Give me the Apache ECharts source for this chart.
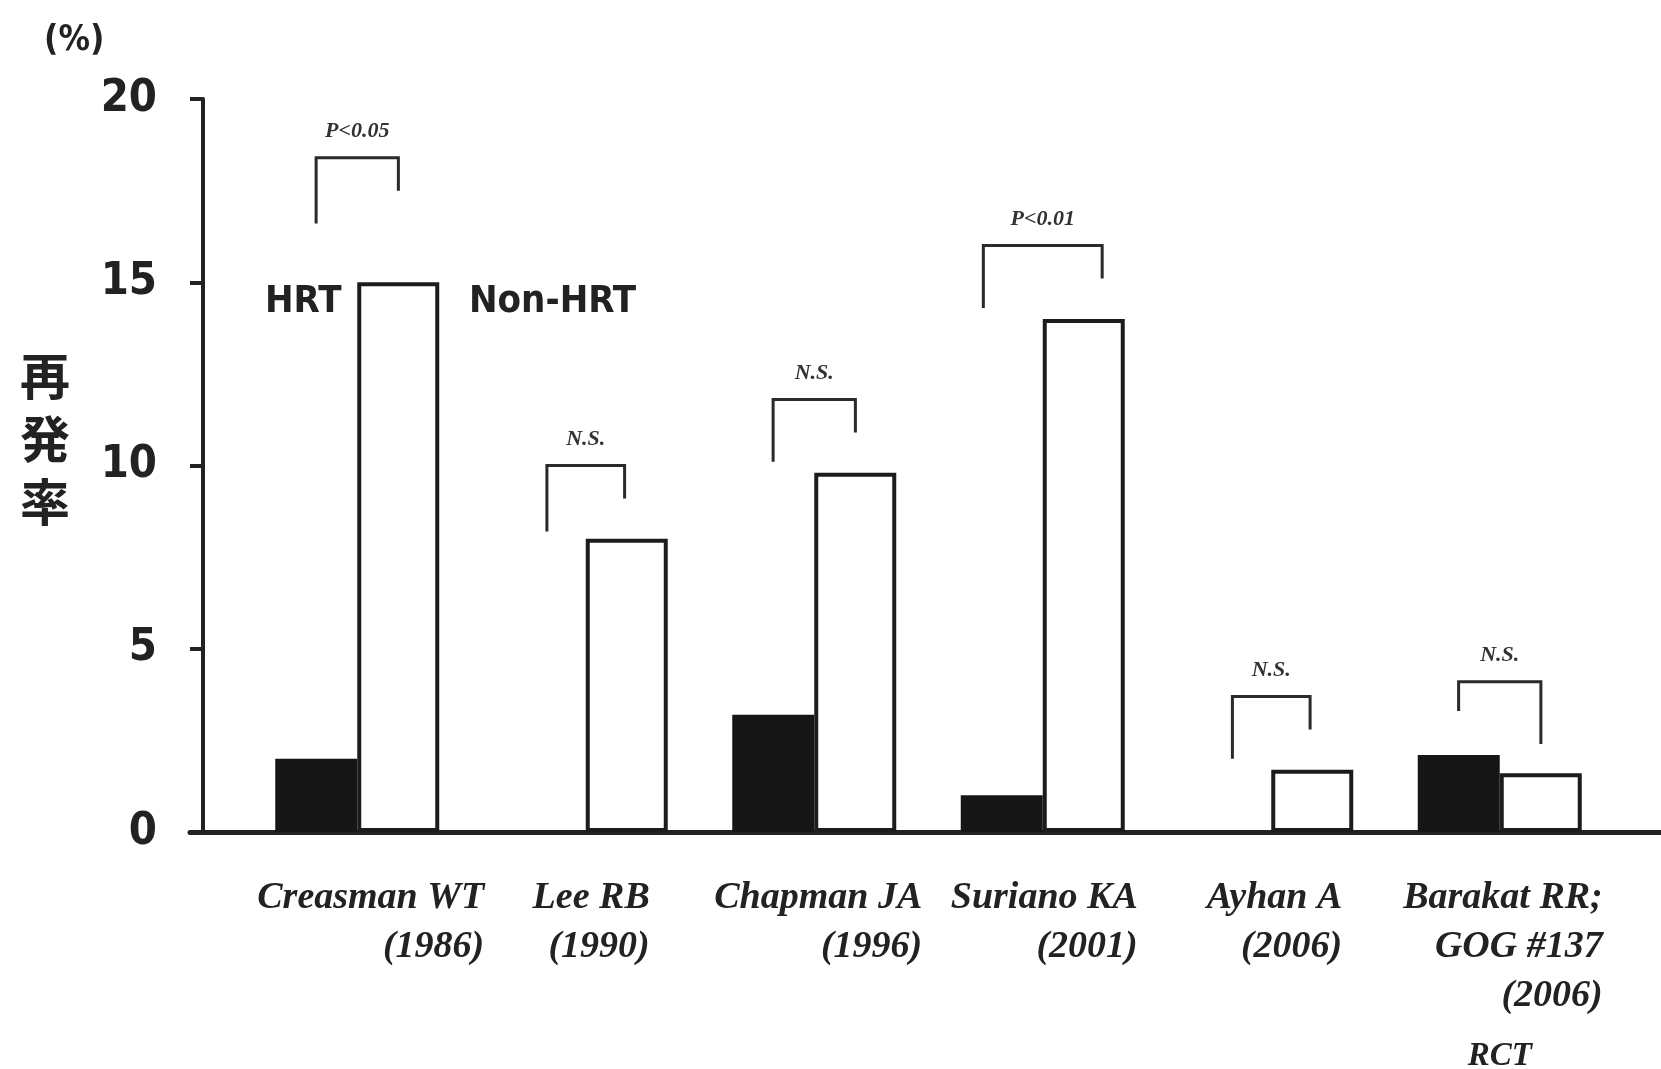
<!DOCTYPE html>
<html><head><meta charset="utf-8">
<script src="https://cdn.jsdelivr.net/npm/echarts@6/dist/echarts.min.js"></script>
<style>html,body{margin:0;padding:0;background:#fff}#c{width:1661px;height:1069px}</style>
</head><body><div id="c"></div>
<script>
// ---- data ----
const categories = ['Creasman WT\n(1986)', 'Lee RB\n(1990)', 'Chapman JA\n(1996)', 'Suriano KA\n(2001)', 'Ayhan A\n(2006)', 'Barakat RR;\nGOG #137\n(2006)\nRCT'];
const hrt = [2.0, 0, 3.2, 1.0, 0, 2.1];
const nonHrt = [15.0, 8.0, 9.8, 14.0, 1.7, 1.6];
const yTicks = [0, 5, 10, 15, 20];
const sigLabels = ['P<0.05', 'N.S.', 'N.S.', 'P<0.01', 'N.S.', 'N.S.'];
const bracketLeftBottom = [16.6, 8.2, 10.1, 14.3, 2.0, 3.3];
const bracketTop = [18.4, 10.0, 11.8, 16.0, 3.7, 4.1];
const bracketRightBottom = [17.5, 9.1, 10.9, 15.1, 2.8, 2.4];

// ---- style ----
const BAR_W = 82;
const BRACKET_SPREAD = [0.18, 0.17, 0.18, 0.26, 0.17, 0.18]; // half-span of each bracket, in category widths
const LABEL_BOX = [254, 128, 216, 190, 142, 206];
const NARROW = '"Liberation Sans Narrow", "DejaVu Sans Condensed", "Liberation Sans", sans-serif';
const SERIF = '"Liberation Serif", "DejaVu Serif", serif';

const rich = {};
LABEL_BOX.forEach((w, i) => {
  rich['w' + i] = {width: w, align: 'right', fontFamily: SERIF, fontStyle: 'italic', fontWeight: 'bold', fontSize: 38, lineHeight: 49, color: '#222'};
});
rich.rct = {width: LABEL_BOX[5], align: 'center', fontFamily: SERIF, fontStyle: 'italic', fontWeight: 'bold', fontSize: 33, lineHeight: 70, color: '#222'};

const chart = echarts.init(document.getElementById('c'), null, {renderer: 'canvas'});
chart.setOption({
  backgroundColor: '#fff',
  animation: false,
  title: [
    {text: '(%)', left: 44, top: 23, padding: 0, textStyle: {fontFamily: NARROW, fontWeight: 'bold', fontSize: 35, color: '#222'}},
    {text: '再\n発\n率', left: 20, top: 344, padding: 0, textStyle: {fontFamily: '"Noto Sans CJK JP", sans-serif', fontWeight: 'bold', fontSize: 50, lineHeight: 63, color: '#222'}},
    {text: 'HRT', left: 265, top: 283, padding: 0, textStyle: {fontFamily: NARROW, fontWeight: 'bold', fontSize: 38, color: '#222'}},
    {text: 'Non-HRT', left: 469, top: 283, padding: 0, textStyle: {fontFamily: NARROW, fontWeight: 'bold', fontSize: 38, color: '#222'}}
  ],
  grid: [
    {left: 243, width: 1371, top: 99, height: 733, containLabel: false, outerBoundsMode: 'none'},
    {left: 190, right: 0, top: 99, height: 733, containLabel: false, outerBoundsMode: 'none'}
  ],
  xAxis: [
    {
      type: 'category', gridIndex: 0, data: categories,
      axisLine: {show: false}, axisTick: {show: false}, splitLine: {show: false},
      axisLabel: {
        interval: 0, margin: 42,
        formatter: function (value, index) {
          return value.split('\n').map(function (line) {
            return line === 'RCT' ? '{rct|' + line + '}' : '{w' + index + '|' + line + '}';
          }).join('\n');
        },
        rich: rich
      }
    },
    {
      type: 'value', gridIndex: 1, min: 0, max: 1,
      axisLine: {show: true, lineStyle: {color: '#222', width: 5}},
      axisTick: {show: false}, axisLabel: {show: false}, splitLine: {show: false}
    }
  ],
  yAxis: [
    {
      type: 'value', gridIndex: 0, offset: 40,
      min: yTicks[0], max: yTicks[yTicks.length - 1], interval: yTicks[1] - yTicks[0],
      axisLine: {show: true, lineStyle: {color: '#222', width: 4}},
      axisTick: {show: true, inside: false, length: 13, lineStyle: {color: '#222', width: 4}},
      splitLine: {show: false},
      axisLabel: {margin: 46, fontFamily: NARROW, fontWeight: 'bold', fontSize: 45, color: '#222'}
    },
    {type: 'value', gridIndex: 1, min: 0, max: 1, show: false}
  ],
  series: [
    {
      name: 'HRT', type: 'bar', xAxisIndex: 0, yAxisIndex: 0, data: hrt,
      barWidth: BAR_W, barGap: '0%',
      itemStyle: {color: '#161616', borderWidth: 0}
    },
    {
      name: 'Non-HRT', type: 'bar', xAxisIndex: 0, yAxisIndex: 0, data: nonHrt,
      barWidth: BAR_W, barGap: '0%',
      itemStyle: {color: '#ffffff', borderColor: '#1c1c1c', borderWidth: 4}
    },
    {
      type: 'custom', xAxisIndex: 0, yAxisIndex: 0, z: 5,
      data: categories.map(function (c, i) { return [i, bracketLeftBottom[i], bracketTop[i], bracketRightBottom[i]]; }),
      encode: {x: 0, y: [1, 2, 3]},
      renderItem: function (params, api) {
        const i = api.value(0);
        const k = params.dataIndex;
        const cx = api.coord([i, 0])[0];
        const band = api.size([1, 0])[0];
        const xl = cx - band * BRACKET_SPREAD[k], xr = cx + band * BRACKET_SPREAD[k];
        const yl = api.coord([i, api.value(1)])[1];
        const yt = api.coord([i, api.value(2)])[1];
        const yr = api.coord([i, api.value(3)])[1];
        return {
          type: 'group',
          children: [
            {type: 'polyline', shape: {points: [[xl, yl], [xl, yt], [xr, yt], [xr, yr]]},
             style: {stroke: '#2a2a2a', lineWidth: 3, fill: 'none'}},
            {type: 'text', x: (xl + xr) / 2, y: yt - 26,
             style: {text: sigLabels[k], fill: '#333', font: 'italic bold 22px "Liberation Serif"',
                     align: 'center', verticalAlign: 'middle', textAlign: 'center', textVerticalAlign: 'middle'}}
          ]
        };
      }
    }
  ]
});
</script>
</body></html>
